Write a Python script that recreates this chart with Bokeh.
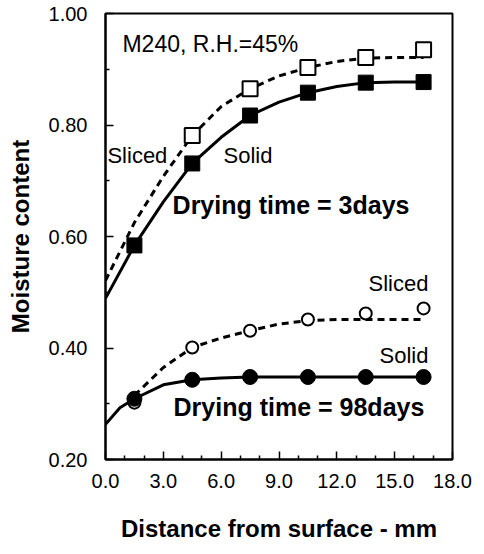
from bokeh.plotting import figure
from bokeh.models import Label, FixedTicker, NumeralTickFormatter
from bokeh.embed import file_html
from bokeh.resources import INLINE

# ---- data ----
dist = [1.5, 4.5, 7.5, 10.5, 13.5, 16.5]

# 3 days drying
solid3_pts = [0.584, 0.731, 0.817, 0.858, 0.876, 0.877]
sliced3_x = [4.5, 7.5, 10.5, 13.5, 16.5]
sliced3_pts = [0.781, 0.865, 0.903, 0.921, 0.935]

# 98 days drying
solid98_pts = [0.309, 0.343, 0.348, 0.348, 0.348, 0.348]
sliced98_pts = [0.302, 0.401, 0.431, 0.451, 0.462, 0.471]

# fitted curves
solid3_cx = [0, 1.5, 3.0, 4.5, 6.0, 7.5, 9.0, 10.5, 12.0, 13.5, 15.0, 16.5]
solid3_cy = [0.489, 0.584, 0.662, 0.731, 0.778, 0.817, 0.841, 0.858, 0.869, 0.876, 0.877, 0.877]
sliced3_cx = [0, 1.5, 3.0, 4.5, 6.0, 7.5, 9.0, 10.5, 12.0, 13.5, 15.0, 16.5]
sliced3_cy = [0.521, 0.625, 0.708, 0.781, 0.833, 0.865, 0.888, 0.903, 0.914, 0.920, 0.921, 0.921]
solid98_cx = [0, 0.75, 1.5, 3.0, 4.5, 6.0, 7.5, 9.0, 10.5, 12.0, 13.5, 15.0, 16.5]
solid98_cy = [0.263, 0.293, 0.309, 0.334, 0.343, 0.346, 0.348, 0.348, 0.348, 0.348, 0.348, 0.348, 0.348]
sliced98_cx = [1.5, 3.0, 4.5, 6.0, 7.5, 9.0, 10.5, 12.0, 13.5, 15.0, 16.5]
sliced98_cy = [0.315, 0.365, 0.401, 0.418, 0.431, 0.443, 0.449, 0.451, 0.451, 0.451, 0.451]

x_ticks = [0, 3, 6, 9, 12, 15, 18]
x_minor = [i for i in range(0, 19) if i % 3 != 0]
y_ticks = [0.2, 0.4, 0.6, 0.8, 1.0]
y_minor = [0.3, 0.5, 0.7, 0.9]

FONT = "Liberation Sans"

p = figure(width=484, height=554, x_range=(0, 18), y_range=(0.2, 1.0),
           output_backend="svg", toolbar_location=None,
           min_border_left=105, min_border_right=32, min_border_top=13, min_border_bottom=95)
p.grid.visible = False
p.outline_line_color = "black"
p.outline_line_width = 2
p.background_fill_color = "white"
p.border_fill_color = "white"

for ax in (p.xaxis[0], p.yaxis[0]):
    ax.axis_line_width = 2
    ax.axis_line_color = "black"
    ax.major_tick_in = 8
    ax.major_tick_out = 0
    ax.minor_tick_in = 4
    ax.minor_tick_out = 0
    ax.major_tick_line_width = 1.5
    ax.minor_tick_line_width = 1.5
    ax.major_label_text_font = FONT
    ax.major_label_text_font_size = "20px"
    ax.major_label_text_color = "black"
    ax.axis_label_text_font = FONT
    ax.axis_label_text_font_style = "bold"
    ax.axis_label_text_font_size = "24px"
    ax.axis_label_text_color = "black"

p.xaxis.ticker = FixedTicker(ticks=x_ticks, minor_ticks=x_minor)
p.yaxis.ticker = FixedTicker(ticks=y_ticks, minor_ticks=y_minor)
p.xaxis.formatter = NumeralTickFormatter(format="0.0")
p.yaxis.formatter = NumeralTickFormatter(format="0.00")
p.xaxis.major_label_standoff = 14
p.yaxis.major_label_standoff = 18
p.xaxis.axis_label = "Distance from surface - mm"
p.yaxis.axis_label = "Moisture content"
p.xaxis.axis_label_standoff = 24
p.yaxis.axis_label_standoff = 12

# curves
p.line(solid3_cx, solid3_cy, line_color="black", line_width=3)
p.line(sliced3_cx, sliced3_cy, line_color="black", line_width=3, line_dash="7 5")
p.line(solid98_cx, solid98_cy, line_color="black", line_width=3)
p.line(sliced98_cx, sliced98_cy, line_color="black", line_width=3, line_dash="7 5")

# markers
p.scatter(sliced3_x, sliced3_pts, marker="square", size=15, fill_color="white",
          line_color="black", line_width=2)
p.scatter(dist, solid3_pts, marker="square", size=15, fill_color="black", line_color="black")
p.scatter(dist, sliced98_pts, marker="circle", size=12, fill_color="white",
          line_color="black", line_width=2)
p.scatter(dist, solid98_pts, marker="circle", size=15, fill_color="black", line_color="black")

def lab(x, y, t, size="22px", bold=False, align="left"):
    p.add_layout(Label(x=x, y=y, text=t, text_font=FONT, text_font_size=size,
                       text_font_style="bold" if bold else "normal",
                       text_align=align, text_baseline="middle", text_color="black"))

lab(0.88, 0.946, "M240, R.H.=45%", size="23px")
lab(0.1, 0.745, "Sliced")
lab(6.12, 0.745, "Solid")
lab(3.48, 0.656, "Drying time = 3days", size="25px", bold=True)
lab(16.75, 0.516, "Sliced", align="right")
lab(16.75, 0.387, "Solid", align="right")
lab(3.53, 0.295, "Drying time = 98days", size="25px", bold=True)

open("out.html", "w").write(file_html(p, INLINE))
